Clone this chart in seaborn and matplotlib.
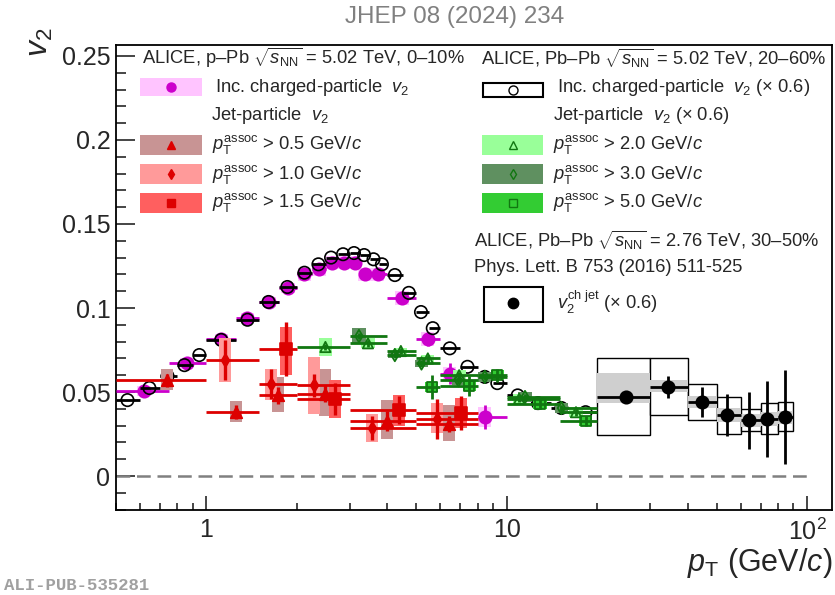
import numpy as np
import matplotlib
matplotlib.use("Agg")
import matplotlib.pyplot as plt
import seaborn as sns
import pandas as pd
from matplotlib.patches import Rectangle
from matplotlib.lines import Line2D
from matplotlib.ticker import FixedLocator, FuncFormatter, MultipleLocator, NullFormatter

# ---------------- data ----------------
# p-Pb 5.02 TeV 0-10% inclusive charged-particle v2
ppb_x = [0.62, 0.86, 1.12, 1.37, 1.62, 1.87, 2.12, 2.37, 2.62, 2.87, 3.12, 3.37, 3.72, 4.48, 5.46, 6.46, 8.45]
ppb_y = [0.0505, 0.067, 0.0815, 0.094, 0.1036, 0.112, 0.120, 0.123, 0.127, 0.127, 0.127, 0.120, 0.120, 0.106, 0.0815, 0.061, 0.035]
ppb_lo = [0.5, 0.75, 1.0, 1.25, 1.5, 1.75, 2.0, 2.25, 2.5, 2.75, 3.0, 3.25, 3.5, 4.0, 5.0, 6.0, 8.0]
ppb_hi = [0.75, 1.0, 1.25, 1.5, 1.75, 2.0, 2.25, 2.5, 2.75, 3.0, 3.25, 3.5, 4.0, 5.0, 6.0, 7.0, 10.0]
ppb_stat = [0.001, 0.001, 0.001, 0.001, 0.001, 0.001, 0.002, 0.002, 0.002, 0.002, 0.003, 0.003, 0.003, 0.003, 0.004, 0.006, 0.007]
ppb_sys = [0.003, 0.003, 0.003, 0.003, 0.003, 0.003, 0.004, 0.004, 0.004, 0.004, 0.004, 0.004, 0.004, 0.004, 0.004, 0.004, 0.006]

# Pb-Pb 5.02 TeV 20-60% inclusive charged-particle v2 (x 0.6)
pbpb_x = [0.546, 0.646, 0.742, 0.845, 0.947, 1.12, 1.37, 1.61, 1.86, 2.12, 2.36, 2.6, 2.85, 3.1, 3.35, 3.6, 3.84,
          4.24, 4.72, 5.18, 5.67, 6.46, 7.4, 8.45, 9.3, 10.87, 12.7, 15.2, 18.3]
pbpb_y = [0.0452, 0.0524, 0.0595, 0.066, 0.072, 0.081, 0.093, 0.1036, 0.1125, 0.121, 0.126, 0.130, 0.132, 0.1327,
          0.1315, 0.129, 0.126, 0.1196, 0.109, 0.0976, 0.088, 0.076, 0.065, 0.059, 0.0553, 0.048, 0.0434, 0.0405, 0.038]
pbpb_lo = [0.5, 0.6, 0.7, 0.8, 0.9, 1.0, 1.25, 1.5, 1.75, 2.0, 2.25, 2.5, 2.75, 3.0, 3.25, 3.5, 3.75,
           4.0, 4.5, 5.0, 5.5, 6.0, 7.0, 8.0, 9.0, 10.0, 12.0, 14.0, 16.0]
pbpb_hi = [0.6, 0.7, 0.8, 0.9, 1.0, 1.25, 1.5, 1.75, 2.0, 2.25, 2.5, 2.75, 3.0, 3.25, 3.5, 3.75, 4.0,
           4.5, 5.0, 5.5, 6.0, 7.0, 8.0, 9.0, 10.0, 12.0, 14.0, 16.0, 20.0]

# Pb-Pb 2.76 TeV 30-50% charged-jet v2 (x 0.6)
jet_x = [24.9, 34.5, 44.5, 54.0, 64.1, 73.7, 84.2]
jet_y = [0.047, 0.053, 0.044, 0.0363, 0.0333, 0.034, 0.035]
jet_lo = [20, 30, 40, 50, 60, 70, 80]
jet_hi = [30, 40, 50, 60, 70, 80, 90]
jet_stat = [0.003, 0.0065, 0.009, 0.0125, 0.017, 0.0225, 0.028]
jet_box_lo = [0.0244, 0.0363, 0.0333, 0.025, 0.027, 0.025, 0.0268]
jet_box_hi = [0.0702, 0.0702, 0.0547, 0.047, 0.040, 0.0434, 0.044]
jet_grey_lo = [0.0435, 0.050, 0.0405, 0.032, 0.029, 0.030, 0.031]
jet_grey_hi = [0.0613, 0.057, 0.0476, 0.0405, 0.037, 0.038, 0.039]

# p-Pb jet-particle v2
tri_x = [0.74, 1.25, 1.73, 2.49, 3.99, 6.42]
tri_y = [0.057, 0.038, 0.048, 0.049, 0.033, 0.031]
tri_lo = [0.5, 1.0, 1.5, 2.0, 3.0, 5.0]
tri_hi = [1.0, 1.5, 2.0, 3.0, 5.0, 8.0]
tri_stat = [0.004, 0.004, 0.005, 0.005, 0.006, 0.005]
tri_sys_lo = [0.051, 0.032, 0.038, 0.036, 0.022, 0.021]
tri_sys_hi = [0.064, 0.0446, 0.059, 0.064, 0.045, 0.042]

dia_x = [1.15, 1.64, 2.28, 3.56, 5.85]
dia_y = [0.069, 0.0548, 0.054, 0.0286, 0.034]
dia_lo = [1.0, 1.5, 2.0, 3.0, 5.0]
dia_hi = [1.5, 2.0, 3.0, 5.0, 8.0]
dia_stat = [0.012, 0.009, 0.007, 0.007, 0.012]
dia_sys_lo = [0.056, 0.045, 0.037, 0.020, 0.0256]
dia_sys_hi = [0.082, 0.064, 0.071, 0.037, 0.0435]

sq_x = [1.84, 2.68, 4.39, 7.04]
sq_y = [0.0756, 0.046, 0.0393, 0.0375]
sq_lo = [1.5, 2.0, 3.0, 5.0]
sq_hi = [2.0, 3.0, 5.0, 8.0]
sq_stat = [0.016, 0.0095, 0.0085, 0.010]
sq_sys_lo = [0.060, 0.0345, 0.030, 0.0286]
sq_sys_hi = [0.0887, 0.057, 0.048, 0.0464]

# Pb-Pb jet-particle v2 (x 0.6)
gtri_x = [2.49, 3.45, 4.44, 5.46, 6.94, 11.0, 17.0]
gtri_y = [0.0768, 0.079, 0.0744, 0.070, 0.060, 0.046, 0.038]
gtri_lo = [2.0, 3.0, 4.0, 5.0, 6.0, 10.0, 15.0]
gtri_hi = [3.0, 4.0, 5.0, 6.0, 8.0, 15.0, 20.0]
gtri_stat = [0.002, 0.002, 0.002, 0.002, 0.002, 0.002, 0.002]
gtri_sys = [0.0055, 0.003, 0.002, 0.002, 0.003, 0.003, 0.003]

gdia_x = [3.22, 4.24, 5.2, 6.9, 8.45, 11.5, 15.2]
gdia_y = [0.0833, 0.072, 0.067, 0.057, 0.059, 0.047, 0.0405]
gdia_lo = [3.0, 4.0, 5.0, 6.0, 8.0, 10.0, 15.0]
gdia_hi = [4.0, 5.0, 6.0, 8.0, 10.0, 15.0, 20.0]
gdia_stat = [0.002, 0.002, 0.002, 0.002, 0.002, 0.002, 0.002]
gdia_sys = [0.005, 0.002, 0.002, 0.003, 0.003, 0.003, 0.003]

gsq_x = [5.63, 7.5, 9.3, 12.9, 18.3]
gsq_y = [0.053, 0.0536, 0.060, 0.043, 0.0327]
gsq_lo = [5.0, 6.0, 8.0, 10.0, 15.0]
gsq_hi = [6.0, 8.0, 10.0, 15.0, 20.0]
gsq_stat = [0.007, 0.006, 0.004, 0.003, 0.003]
gsq_sys = [0.003, 0.003, 0.003, 0.003, 0.003]

x_tick_vals = [1, 10, 100]
x_tick_text = ["1", "10", "$10^{2}$"]
y_tick_vals = [0, 0.05, 0.1, 0.15, 0.2, 0.25]
y_tick_text = ["0", "0.05", "0.1", "0.15", "0.2", "0.25"]

# ---------------- style ----------------
sns.set_theme(style="ticks")
plt.rcParams["font.family"] = ["Liberation Sans", "DejaVu Sans"]
plt.rcParams["mathtext.fontset"] = "custom"
plt.rcParams["mathtext.rm"] = "Liberation Sans"
plt.rcParams["mathtext.it"] = "Liberation Sans:italic"
plt.rcParams["mathtext.bf"] = "Liberation Sans:bold"
plt.rcParams["mathtext.sf"] = "Liberation Sans"

MAG = "#cc00cc"
PINK = "#ffc4ff"
RED = "#dd0000"
TRI_BOX = "#c89494"
DIA_BOX = "#ff9a9a"
SQ_BOX = "#ff5f5f"
GRN = "#117711"
GTRI_BOX = "#99ff99"
GDIA_BOX = "#5f9060"
GSQ_BOX = "#33cc33"

W, H = 835, 595
fig = plt.figure(figsize=(W / 100, H / 100), dpi=100)
ax = fig.add_axes([116 / W, 1 - 510 / H, (832 - 116) / W, (510 - 45) / H])
ax.set_xscale("log")
ax.set_xlim(0.5, 121)
ax.set_ylim(-0.0202, 0.2565)


def fx(px):
    return px / W


def fy(py):
    return 1 - py / H


def boxes(x, lo, hi, half=0.02, **kw):
    for xi, a, b in zip(x, lo, hi):
        x0 = xi * 10 ** (-half)
        x1 = xi * 10 ** (half)
        ax.add_patch(Rectangle((x0, a), x1 - x0, b - a, **kw))


def scatter(x, y, marker, size, color, open_=False, lw=1.2, z=6):
    df = pd.DataFrame({"x": x, "y": y})
    sns.scatterplot(data=df, x="x", y="y", ax=ax, marker=marker, s=size, color=color,
                    edgecolor=color, linewidth=lw, zorder=z, legend=False)
    if open_:
        ax.collections[-1].set_facecolor("none")


# dashed zero line
ax.hlines(0, 0.5, 100, colors="#808080", linestyles=(0, (5.5, 2.7)), lw=1.8, zorder=1)

# charged-jet v2
for xl, xh, a, b in zip(jet_lo, jet_hi, jet_box_lo, jet_box_hi):
    ax.add_patch(Rectangle((xl, a), xh - xl, b - a, facecolor="white", edgecolor="black", lw=1.0, zorder=2))
for xl, xh, a, b in zip(jet_lo, jet_hi, jet_grey_lo, jet_grey_hi):
    ax.add_patch(Rectangle((xl, a), xh - xl, b - a, facecolor="#cfcfcf", edgecolor="none", zorder=2.5))
ax.hlines(jet_y, jet_lo, jet_hi, colors="black", lw=2, zorder=3)
ax.vlines(jet_x, np.array(jet_y) - jet_stat, np.array(jet_y) + jet_stat, colors="black", lw=2, zorder=3)
scatter(jet_x, jet_y, "o", 80, "black")

# p-Pb inclusive (magenta)
boxes(ppb_x, np.array(ppb_y) - ppb_sys, np.array(ppb_y) + ppb_sys, half=0.022, facecolor=PINK, edgecolor="none", zorder=1.5)
ax.hlines(ppb_y, ppb_lo, ppb_hi, colors=MAG, lw=2, zorder=3)
ax.vlines(ppb_x, np.array(ppb_y) - ppb_stat, np.array(ppb_y) + ppb_stat, colors=MAG, lw=2, zorder=3)
scatter(ppb_x, ppb_y, "o", 80, MAG, z=4)

# Pb-Pb inclusive (open circles)
ax.hlines(pbpb_y, pbpb_lo, pbpb_hi, colors="black", lw=2, zorder=4.5)
scatter(pbpb_x, pbpb_y, "o", 80, "black", open_=True, lw=1.2, z=5)

# Pb-Pb jet-particle (green)
for xs, ys, lo, hi, st, sy, bc, mk, ms in [
    (gtri_x, gtri_y, gtri_lo, gtri_hi, gtri_stat, gtri_sys, GTRI_BOX, "^", 55),
    (gdia_x, gdia_y, gdia_lo, gdia_hi, gdia_stat, gdia_sys, GDIA_BOX, "d", 40),
    (gsq_x, gsq_y, gsq_lo, gsq_hi, gsq_stat, gsq_sys, GSQ_BOX, "s", 50),
]:
    ys = np.array(ys)
    boxes(xs, ys - np.array(sy), ys + np.array(sy), half=0.022, facecolor=bc, edgecolor="none", zorder=5.2)
    ax.hlines(ys, lo, hi, colors=GRN, lw=2, zorder=5.4)
    ax.vlines(xs, ys - np.array(st), ys + np.array(st), colors=GRN, lw=2, zorder=5.4)
    scatter(xs, ys, mk, ms, GRN, open_=True, lw=1.3, z=5.6)

# p-Pb jet-particle (red)
for xs, ys, lo, hi, st, slo, shi, bc, mk, ms in [
    (tri_x, tri_y, tri_lo, tri_hi, tri_stat, tri_sys_lo, tri_sys_hi, TRI_BOX, "^", 70),
    (dia_x, dia_y, dia_lo, dia_hi, dia_stat, dia_sys_lo, dia_sys_hi, DIA_BOX, "d", 45),
    (sq_x, sq_y, sq_lo, sq_hi, sq_stat, sq_sys_lo, sq_sys_hi, SQ_BOX, "s", 70),
]:
    ys = np.array(ys)
    boxes(xs, slo, shi, half=0.02, facecolor=bc, edgecolor="none", zorder=6)
    ax.hlines(ys, lo, hi, colors=RED, lw=2, zorder=6.3)
    ax.vlines(xs, ys - np.array(st), ys + np.array(st), colors=RED, lw=2.4, zorder=6.3)
    scatter(xs, ys, mk, ms, RED, z=6.5)

# ---------------- axes ----------------
for s in ax.spines.values():
    s.set_color("black")
    s.set_linewidth(1.3)
ax.xaxis.set_major_locator(FixedLocator(x_tick_vals))
ax.xaxis.set_major_formatter(FuncFormatter(lambda v, p: x_tick_text[x_tick_vals.index(int(round(v)))] if int(round(v)) in x_tick_vals else ""))
minors = [m * d for d in (0.1, 1, 10) for m in range(2, 10) if 0.5 <= m * d <= 121]
ax.xaxis.set_minor_locator(FixedLocator(minors))
ax.xaxis.set_minor_formatter(NullFormatter())
ax.yaxis.set_major_locator(FixedLocator(y_tick_vals))
ax.set_yticklabels(y_tick_text)
ax.yaxis.set_minor_locator(MultipleLocator(0.01))
ax.tick_params(axis="x", which="major", direction="in", length=10, width=1.2, labelsize=18, pad=6, top=False, bottom=True)
ax.tick_params(axis="x", which="minor", direction="in", length=5, width=1.2, top=False, bottom=True)
ax.tick_params(axis="y", which="major", direction="in", length=14, width=1.2, labelsize=18, pad=4, left=True, right=False)
ax.tick_params(axis="y", which="minor", direction="in", length=7, width=1.2, left=True, right=False)
ax.set_xlabel("")
ax.set_ylabel("")

fig.text(fx(832), fy(563), r"$p_{\rm T}$ (GeV/$c$)", ha="right", va="center", fontsize=22)
fig.text(fx(40), fy(28), r"$v_{2}$", ha="center", va="top", rotation=90, fontsize=23)
fig.text(fx(455), fy(17), "JHEP 08 (2024) 234", ha="center", va="center", fontsize=17.5, color="#808080")
fig.text(fx(4), fy(586), "ALI-PUB-535281", ha="left", va="center", fontsize=12.5, color="#a0a0a0",
         family="Liberation Mono", weight="bold")

# ---------------- legends ----------------
FS = 13.2


def ftext(x, y, s, **kw):
    fig.text(fx(x), fy(y), s, ha="left", va="center", fontsize=kw.pop("fs", FS), **kw)


def fbox(x0, y0, x1, y1, fc, ec="none", lw=1.5):
    fig.add_artist(Rectangle((fx(x0), fy(y1)), fx(x1) - fx(x0), fy(y0) - fy(y1), transform=fig.transFigure,
                             facecolor=fc, edgecolor=ec, lw=lw))


def fmark(x, y, marker, ms, color, open_=False, mew=1.0):
    fig.add_artist(Line2D([fx(x)], [fy(y)], marker=marker, ms=ms, color=color, mec=color,
                          mfc="none" if open_ else color, mew=mew, transform=fig.transFigure, ls="none"))


ftext(142, 58, r"ALICE, p–Pb $\sqrt{s_{\rm NN}}$ = 5.02 TeV, 0–10%")
fbox(140, 78, 202, 96, PINK)
fmark(171, 87, "o", 6.5, MAG)
ftext(215, 88, r"Inc. charged-particle  $v_{2}$")
ftext(211, 116, r"Jet-particle  $v_{2}$")
leg_red = [(TRI_BOX, "^", 6, r"$p_{\rm T}^{\rm assoc}$ > 0.5 GeV/$c$"),
           (DIA_BOX, "d", 5, r"$p_{\rm T}^{\rm assoc}$ > 1.0 GeV/$c$"),
           (SQ_BOX, "s", 6, r"$p_{\rm T}^{\rm assoc}$ > 1.5 GeV/$c$")]
for i, (bc, mk, ms, lab) in enumerate(leg_red):
    cy = 145 + 29 * i
    fbox(140, cy - 10, 202, cy + 10, bc)
    fmark(171, cy, mk, ms, RED)
    ftext(212, cy, lab)

ftext(481, 58, r"ALICE, Pb–Pb $\sqrt{s_{\rm NN}}$ = 5.02 TeV, 20–60%")
fbox(483, 83, 543, 97, "white", ec="black", lw=1.5)
fmark(513, 90, "o", 6.5, "black", open_=True)
ftext(557, 88, r"Inc. charged-particle  $v_{2}$ (× 0.6)")
ftext(553, 116, r"Jet-particle  $v_{2}$ (× 0.6)")
leg_grn = [(GTRI_BOX, "^", 6, r"$p_{\rm T}^{\rm assoc}$ > 2.0 GeV/$c$"),
           (GDIA_BOX, "d", 5, r"$p_{\rm T}^{\rm assoc}$ > 3.0 GeV/$c$"),
           (GSQ_BOX, "s", 6, r"$p_{\rm T}^{\rm assoc}$ > 5.0 GeV/$c$")]
for i, (bc, mk, ms, lab) in enumerate(leg_grn):
    cy = 145 + 29 * i
    fbox(482, cy - 10, 543, cy + 10, bc)
    fmark(513, cy, mk, ms, GRN, open_=True)
    ftext(553, cy, lab)

ftext(474, 240, r"ALICE, Pb–Pb $\sqrt{s_{\rm NN}}$ = 2.76 TeV, 30–50%")
ftext(474, 267, "Phys. Lett. B 753 (2016) 511-525")
fbox(484, 287, 543, 322, "white", ec="black", lw=1.5)
fmark(513, 303, "o", 7.5, "black")
ftext(557, 302, r"$v_{2}^{\rm ch\ jet}$ (× 0.6)")

fig.savefig("out.png", dpi=100, facecolor="white")
